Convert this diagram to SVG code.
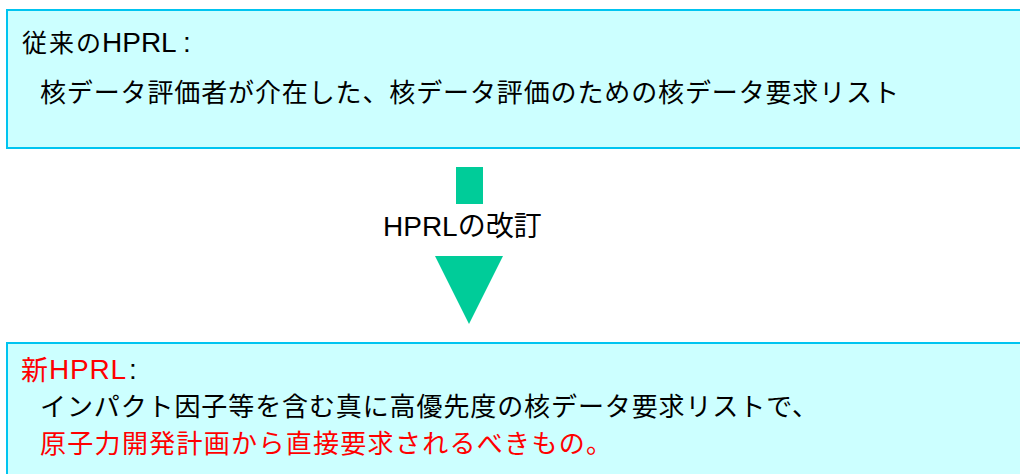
<svg xmlns="http://www.w3.org/2000/svg" width="1020" height="474" viewBox="0 0 1020 474">
<style>
.box{fill:#ccffff;stroke:#00c4f0;stroke-width:2}
.t{font-family:"Liberation Sans","Noto Sans CJK JP",sans-serif;font-size:26px;fill:#000}
.lat{font-size:28px}
.red{fill:#ff0000}
.arr{fill:#00cc99}
</style>
<rect width="1020" height="474" fill="#ffffff"/>
<g id="old-hprl">
<rect class="box" x="7" y="10" width="1030" height="138"/>
<text class="t" x="22" y="52" style="font-size:25px" textLength="79" lengthAdjust="spacing">従来の</text>
<text class="t lat" x="102" y="52">HPRL</text>
<text class="t lat" x="183" y="52">:</text>
<text class="t" x="40" y="102" textLength="859" lengthAdjust="spacing">核データ評価者が介在した、核データ評価のための核データ要求リスト</text>
</g>
<g id="connectors">
<rect class="arr" x="456" y="167" width="27" height="37"/>
<polygon class="arr" points="435,256 503,256 469,324"/>
</g>
<g id="revision-label">
<text class="t" x="383" y="236" style="font-size:28px">HPRLの改訂</text>
</g>
<g id="new-hprl">
<rect class="box" x="7" y="343" width="1030" height="140"/>
<text class="t red" x="21" y="380" style="font-size:27px">新</text>
<text class="t lat red" x="49" y="379" textLength="77" lengthAdjust="spacing">HPRL</text>
<text class="t lat" x="129" y="379">:</text>
<text class="t" x="40" y="416" textLength="778" lengthAdjust="spacing">インパクト因子等を含む真に高優先度の核データ要求リストで、</text>
<text class="t red" x="40" y="453" textLength="572" lengthAdjust="spacing">原子力開発計画から直接要求されるべきもの。</text>
</g>
</svg>
